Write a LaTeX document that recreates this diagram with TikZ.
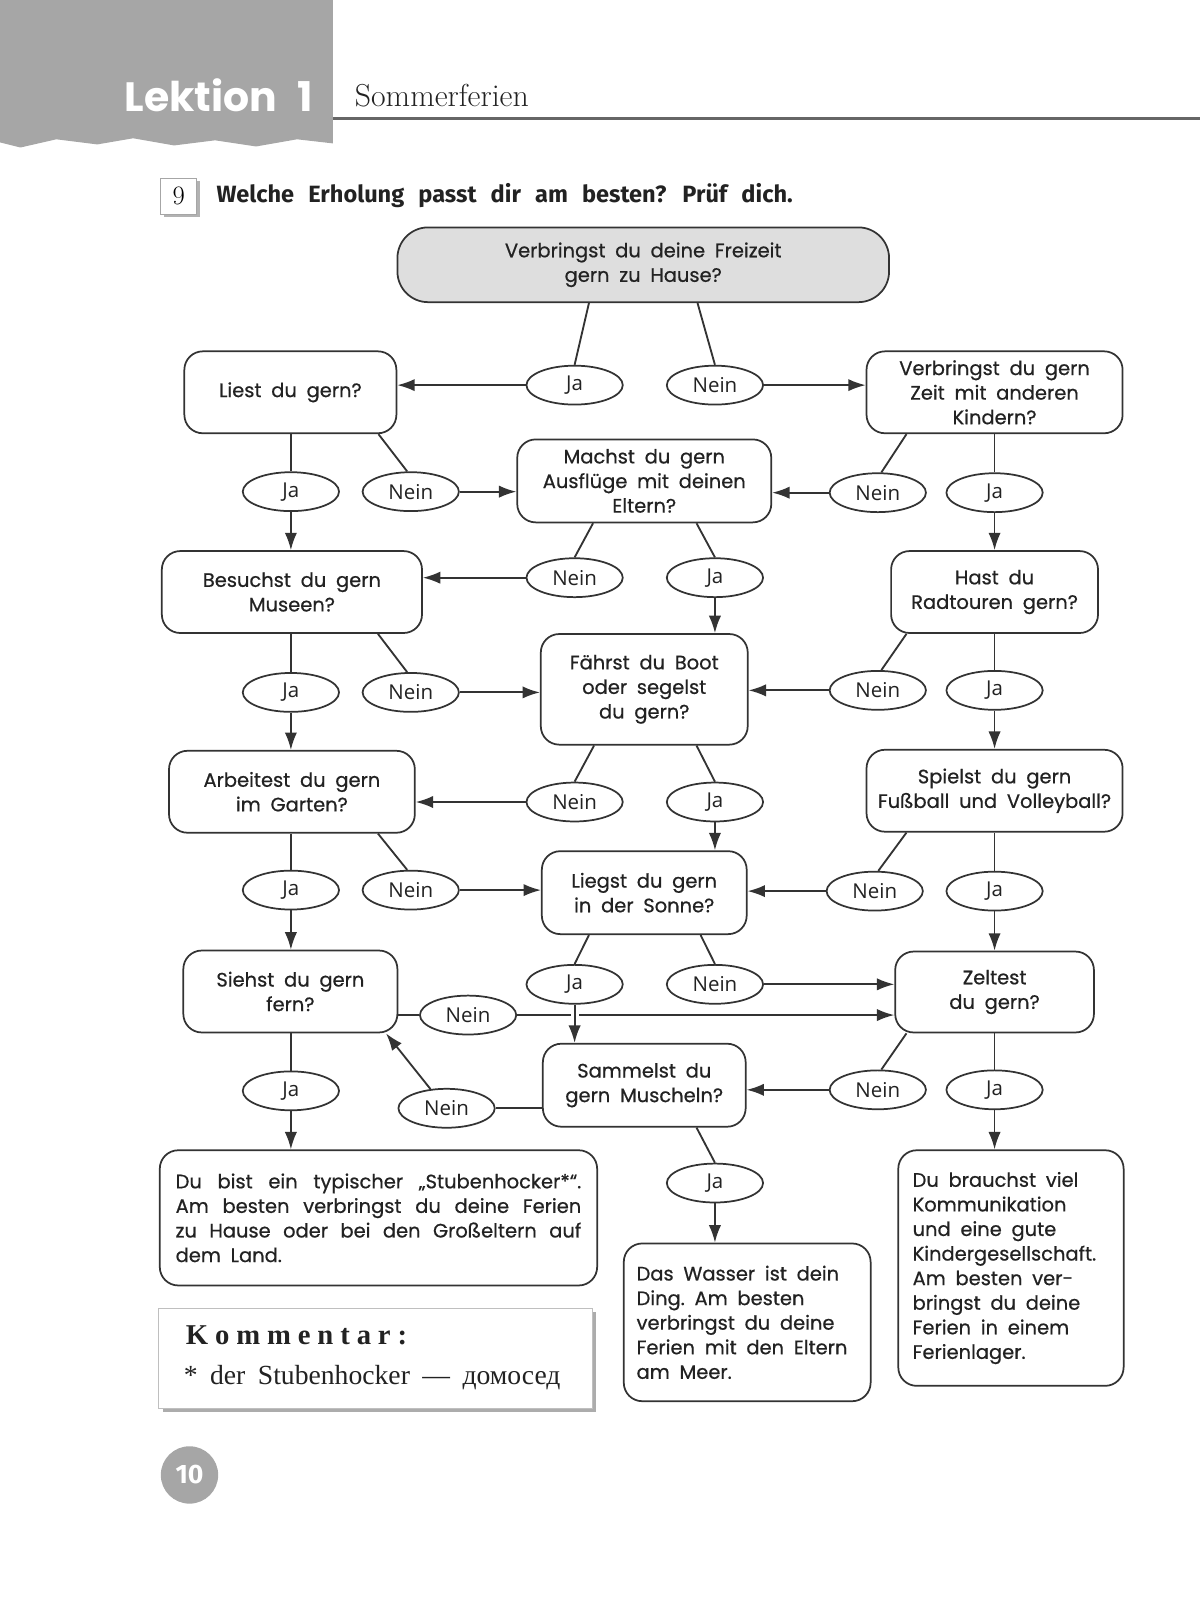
\documentclass[tikz,border=0pt]{standalone}
\usepackage{fontspec}
\usetikzlibrary{shapes.geometric,arrows.meta}
\newfontfamily\boxfont{Poppins}[FakeBold=0.6]
\newfontfamily\lekfont{Poppins}
\newfontfamily\yesnofont{Open Sans}
\newfontfamily\headfont{Fira Sans}
\newfontfamily\notefont{Liberation Serif}
\definecolor{linecol}{HTML}{333333}
\definecolor{textcol}{HTML}{222222}
\definecolor{headgray}{HTML}{A6A6A6}
\definecolor{headline}{HTML}{666666}
\definecolor{topfill}{HTML}{DEDEDE}

\begin{document}
\begin{tikzpicture}[x=1pt, y=-1pt,
  qbox/.style={draw=linecol, line width=1.7pt, rounded corners=18pt, fill=white,
    align=center, inner sep=0pt, text=textcol,
    font={\boxfont\fontsize{19}{24}\selectfont},
    execute at begin node={\spaceskip=0.5em plus 0.4em\relax}},
  rbox/.style={qbox, align=left},
  answer/.style={draw=linecol, line width=1.7pt, ellipse, fill=white,
    minimum width=94pt, minimum height=38pt, inner sep=0pt, text=textcol,
    font={\yesnofont\fontsize{20}{24}\selectfont}},
  link/.style={draw=linecol, line width=1.8pt},
  flow/.style={link, -{Latex[length=17pt, width=12pt]}}]

\useasboundingbox (0,0) rectangle (1172,1566);

% Kopfzeile
\fill[headgray] (0,0) -- (325,0) -- (325,140) -- (290,136) -- (250,143) -- (210,137)
  -- (170,142) -- (130,135) -- (95,141) -- (55,136) -- (20,144) -- (0,139) -- cycle;
\draw[headline, line width=3pt] (325,116) -- (1172,116);
\node[anchor=east, text=white, font=\lekfont\bfseries\fontsize{40}{44}\selectfont,
  execute at begin node={\spaceskip=0.5em\relax}] (lektion) at (309,93) {Lektion 1};
\node[anchor=west, text=textcol, font=\fontsize{31}{34}\selectfont] (thema) at (343,93) {Sommerferien};

% Aufgabe
\fill[gray!60] (160,177) rectangle (195,212);
\node[draw=gray!70, fill=white, line width=0.8pt, minimum size=35pt, inner sep=0pt,
  font=\fontsize{26}{28}\selectfont] (nummer) at (174.5,191.5) {9};
\node[anchor=west, text=textcol, font={\headfont\bfseries\fontsize{23}{26}\selectfont},
  execute at begin node={\spaceskip=0.6em\relax}] (aufgabe) at (208,191) {Welche Erholung passt dir am besten? Prüf dich.};

% Fragen
\node[qbox, fill=topfill, rounded corners=30pt, minimum width=480, minimum height=73] (top) at (628,258.5) {Verbringst du deine Freizeit\\gern zu Hause?};
\node[qbox, minimum width=207, minimum height=80] (liest) at (283.5,383) {Liest du gern?};
\node[qbox, minimum width=250, minimum height=80] (kinder) at (971,383) {Verbringst du gern\\Zeit mit anderen\\Kindern?};
\node[qbox, minimum width=248, minimum height=81] (machst) at (629,469.5) {Machst du gern\\Ausflüge mit deinen\\Eltern?};
\node[qbox, minimum width=254, minimum height=80] (besuchst) at (285,578) {Besuchst du gern\\Museen?};
\node[qbox, minimum width=202, minimum height=80] (hast) at (971,578) {Hast du\\Radtouren gern?};
\node[qbox, minimum width=202, minimum height=108] (faehrst) at (629,673) {Fährst du Boot\\oder segelst\\du gern?};
\node[qbox, minimum width=240, minimum height=80] (arbeitest) at (285,773) {Arbeitest du gern\\im Garten?};
\node[qbox, minimum width=250, minimum height=80] (spielst) at (971,772) {Spielst du gern\\Fußball und Volleyball?};
\node[qbox, minimum width=200, minimum height=81] (liegst) at (629,871.5) {Liegst du gern\\in der Sonne?};
\node[qbox, minimum width=209, minimum height=80] (siehst) at (283.5,968) {Siehst du gern\\fern?};
\node[qbox, minimum width=194, minimum height=79] (zeltest) at (971,968.5) {Zeltest\\du gern?};
\node[qbox, minimum width=198, minimum height=81] (sammelst) at (629,1059.5) {Sammelst du\\gern Muscheln?};

% Ergebnisse
\node[rbox, minimum width=427, minimum height=132, text width=396] (stuben) at (369.5,1189)
  {\makebox[396pt][s]{Du bist ein typischer „Stubenhocker*“.}\\
   \makebox[396pt][s]{Am besten verbringst du deine Ferien}\\
   \makebox[396pt][s]{zu Hause oder bei den Großeltern auf}\\
   dem Land.};
\node[rbox, minimum width=241, minimum height=154, text width=216] (wasser) at (729.5,1291)
  {Das Wasser ist dein\\Ding. Am besten\\verbringst du deine\\Ferien mit den Eltern\\am Meer.};
\node[rbox, minimum width=220, minimum height=230, text width=192] (lager) at (987,1238)
  {Du brauchst viel\\Kommunikation\\und eine gute\\Kindergesellschaft.\\Am besten ver-\\bringst du deine\\Ferien in einem\\Ferienlager.};

% Antworten
\node[answer] (topja) at (561,376) {Ja};
\node[answer] (topnein) at (698,376) {Nein};
\node[answer] (liestja) at (284,480) {Ja};
\node[answer] (liestnein) at (401,480) {Nein};
\node[answer] (kindernein) at (857,481) {Nein};
\node[answer] (kinderja) at (971,481) {Ja};
\node[answer] (machstnein) at (561,564) {Nein};
\node[answer] (machstja) at (698,564) {Ja};
\node[answer] (besuchstja) at (284,676) {Ja};
\node[answer] (besuchstnein) at (401,676) {Nein};
\node[answer] (hastnein) at (857,674) {Nein};
\node[answer] (hastja) at (971,674) {Ja};
\node[answer] (faehrstnein) at (561,783) {Nein};
\node[answer] (faehrstja) at (698,783) {Ja};
\node[answer] (arbeitestja) at (284,869) {Ja};
\node[answer] (arbeitestnein) at (401,869) {Nein};
\node[answer] (spielstnein) at (854,870) {Nein};
\node[answer] (spielstja) at (971,870) {Ja};
\node[answer] (liegstja) at (561,961) {Ja};
\node[answer] (liegstnein) at (698,961) {Nein};
\node[answer] (siehstnein) at (457,991) {Nein};
\node[answer] (siehstja) at (284,1065) {Ja};
\node[answer] (sammelstnein) at (436,1082) {Nein};
\node[answer] (sammelstja) at (698,1155) {Ja};
\node[answer] (zeltestnein) at (857,1064) {Nein};
\node[answer] (zeltestja) at (971,1064) {Ja};

% Linien von den Fragen zu den Antworten
\draw[link] ([xshift=-53]top.south) -- (topja.north);
\draw[link] ([xshift=53]top.south) -- (topnein.north);
\draw[link] (liest.south -| liestja) -- (liestja);
\draw[link] ([xshift=86]liest.south) -- (liestnein.100);
\draw[link] ([xshift=-86]kinder.south) -- (kindernein.80);
\draw[link] (kinder.south -| kinderja) -- (kinderja);
\draw[link] ([xshift=-50]machst.south) -- (machstnein.north);
\draw[link] ([xshift=51]machst.south) -- (machstja.north);
\draw[link] (besuchst.south -| besuchstja) -- (besuchstja);
\draw[link] ([xshift=84]besuchst.south) -- (besuchstnein.100);
\draw[link] ([xshift=-86]hast.south) -- (hastnein.80);
\draw[link] (hast.south -| hastja) -- (hastja);
\draw[link] ([xshift=-49]faehrst.south) -- (faehrstnein.north);
\draw[link] ([xshift=51]faehrst.south) -- (faehrstja.north);
\draw[link] (arbeitest.south -| arbeitestja) -- (arbeitestja);
\draw[link] ([xshift=84]arbeitest.south) -- (arbeitestnein.100);
\draw[link] ([xshift=-86]spielst.south) -- (spielstnein.80);
\draw[link] (spielst.south -| spielstja) -- (spielstja);
\draw[link] ([xshift=-54]liegst.south) -- (liegstja.north);
\draw[link] ([xshift=55]liegst.south) -- (liegstnein.north);
\draw[link] (siehstnein.west -| siehst.east) -- (siehstnein.west);
\draw[link] (siehst.south -| siehstja) -- (siehstja);
\draw[link] (sammelstnein.east -| sammelst.west) -- (sammelstnein.east);
\draw[link] ([xshift=51]sammelst.south) -- (sammelstja.north);
\draw[link] ([xshift=-86]zeltest.south) -- (zeltestnein.80);
\draw[link] (zeltest.south -| zeltestja) -- (zeltestja);

% Pfeile von den Antworten zu den Fragen
\draw[flow] (topja.west) -- (topja.west -| liest.east);
\draw[flow] (topnein.east) -- (topnein.east -| kinder.west);
\draw[flow] (liestja) -- (liestja |- besuchst.north);
\draw[flow] (liestnein.east) -- (liestnein.east -| machst.west);
\draw[flow] (kindernein.west) -- (kindernein.west -| machst.east);
\draw[flow] (kinderja) -- (kinderja |- hast.north);
\draw[flow] (machstnein.west) -- (machstnein.west -| besuchst.east);
\draw[flow] (machstja) -- (machstja |- faehrst.north);
\draw[flow] (besuchstja) -- (besuchstja |- arbeitest.north);
\draw[flow] (besuchstnein.east) -- (besuchstnein.east -| faehrst.west);
\draw[flow] (hastnein.west) -- (hastnein.west -| faehrst.east);
\draw[flow] (hastja) -- (hastja |- spielst.north);
\draw[flow] (faehrstnein.west) -- (faehrstnein.west -| arbeitest.east);
\draw[flow] (faehrstja) -- (faehrstja |- liegst.north);
\draw[flow] (arbeitestja) -- (arbeitestja |- siehst.north);
\draw[flow] (arbeitestnein.east) -- (arbeitestnein.east -| liegst.west);
\draw[flow] (spielstnein.west) -- (spielstnein.west -| liegst.east);
\draw[flow] (spielstja) -- (spielstja |- zeltest.north);
\draw[flow] (liegstnein.east) -- (liegstnein.east -| zeltest.west);
\draw[flow] (siehstnein.east) -- (siehstnein.east -| zeltest.west);
\draw[flow, preaction={draw=white, line width=8pt, -, shorten <=6pt, shorten >=8pt}] (liegstja) -- (liegstja |- sammelst.north);
\draw[flow] (siehstja) -- (siehstja |- stuben.north);
\draw[flow] (sammelstnein.130) -- ([xshift=-12]siehst.south east);
\draw[flow] (zeltestnein.west) -- (zeltestnein.west -| sammelst.east);
\draw[flow] (zeltestja) -- (zeltestja |- lager.north);
\draw[flow] (sammelstja) -- (sammelstja |- wasser.north);

% Kommentar
\fill[gray!65] (159,1281) rectangle (582,1379);
\node[draw=gray!50, fill=white, line width=0.8pt, minimum width=423, minimum height=98, inner sep=0pt] (kommentar) at (366.5,1326) {};
\node[anchor=west, text=textcol, font=\notefont\bfseries\fontsize{28}{30}\selectfont\addfontfeatures{LetterSpace=24}] (kommtitel) at (178,1304) {Kommentar:};
\node[anchor=west, text=textcol, font=\notefont\fontsize{27}{30}\selectfont,
  execute at begin node={\spaceskip=0.45em\relax}] (vokabel) at (176,1345) {* der Stubenhocker — домосед};

% Seitenzahl
\node[circle, fill=headgray, minimum size=56pt, inner sep=0pt, text=white,
  font=\headfont\bfseries\fontsize{26}{28}\selectfont] (seite) at (185,1440) {10};

\end{tikzpicture}
\end{document}
